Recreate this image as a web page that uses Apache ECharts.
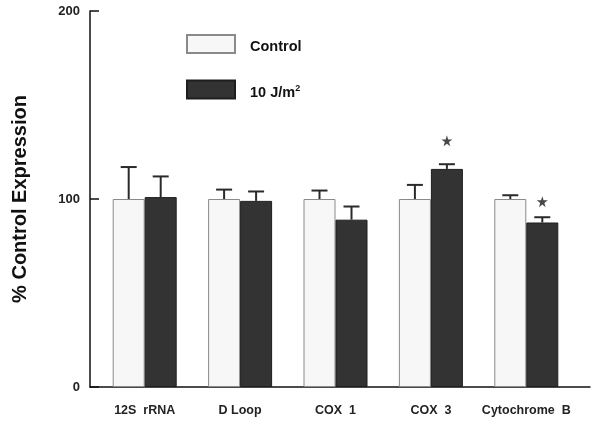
<!DOCTYPE html>
<html>
<head>
<meta charset="utf-8">
<script src="https://cdn.jsdelivr.net/npm/echarts@6/dist/echarts.min.js"></script>
<style>html,body{margin:0;padding:0;background:#fff}#c{width:600px;height:423px}</style>
</head>
<body>
<div id="c"></div>
<script>
const categories = ['12S  rRNA', 'D Loop', 'COX  1', 'COX  3', 'Cytochrome  B'];
const controlValues = [100, 100, 100, 100, 100];
const controlErrors = [117, 105, 104.5, 107.5, 102];
const treatedValues = [101, 99, 89, 116, 87.5];
const treatedErrors = [112, 104, 96, 118.5, 90.3];
const starValues = [null, null, null, 131, 98.6];
const yTicks = [0, 100, 200];

const chart = echarts.init(document.getElementById('c'));
const BW = 32;

function errorSeries(name, values, errs, dx) {
  return {
    type: 'custom', name: name + ' err', xAxisIndex: 0, yAxisIndex: 0, z: 5,
    data: values.map((v, i) => [i, v, errs[i]]),
    renderItem: function (params, api) {
      const base = api.coord([api.value(0), api.value(1)]);
      const top = api.coord([api.value(0), api.value(2)]);
      const x = base[0] + dx;
      return {
        type: 'group', children: [
          { type: 'line', shape: { x1: x, y1: base[1], x2: x, y2: top[1] }, style: { stroke: '#2a2a2a', lineWidth: 2 } },
          { type: 'line', shape: { x1: x - 8, y1: top[1], x2: x + 8, y2: top[1] }, style: { stroke: '#2a2a2a', lineWidth: 2 } }
        ]
      };
    }
  };
}

chart.setOption({
  animation: false,
  grid: [
    { left: 97, right: 26, top: 11, bottom: 36 },
    { left: 90, right: 10, top: 11, bottom: 36 }
  ],
  legend: {
    data: [{ name: 'Control', icon: 'rect' }, { name: '10 J/m2', icon: 'rect' }],
    orient: 'vertical', left: 186, top: 34, padding: 0, itemWidth: 48, itemHeight: 18, itemGap: 25,
    textStyle: { fontFamily: 'Liberation Sans', fontWeight: 'bold', fontSize: 14.5, color: '#111', padding: [6, 0, 0, 10],
      rich: { sup: { fontSize: 9, fontWeight: 'bold', verticalAlign: 'top', padding: [0, 0, 8, 0], fontFamily: 'Liberation Sans' } } },
    formatter: function (n) { return n === '10 J/m2' ? '10 J/m{sup|2}' : n; }
  },
  xAxis: [
    { type: 'category', gridIndex: 0, data: categories, axisLine: { show: false }, axisTick: { show: false },
      axisLabel: { interval: 0, margin: 17, fontFamily: 'Liberation Sans', fontSize: 12.5, color: '#222', fontWeight: 'bold' } },
    { type: 'value', gridIndex: 1, min: 0, max: 1, axisLine: { show: true, onZero: false, lineStyle: { color: '#111', width: 1.5 } },
      axisTick: { show: false }, axisLabel: { show: false }, splitLine: { show: false } }
  ],
  yAxis: [
    { type: 'value', gridIndex: 0, min: 0, max: 200, interval: 100, offset: 7,
      axisLine: { show: true, lineStyle: { color: '#111', width: 1.5 } },
      axisTick: { show: true, inside: true, length: 9, lineStyle: { color: '#111', width: 1.5 } },
      axisLabel: { margin: 10, fontFamily: 'Liberation Sans', fontSize: 13, color: '#222', fontWeight: 'bold',
        formatter: v => yTicks.includes(v) ? String(v) : '' },
      splitLine: { show: false },
      name: '% Control Expression', nameLocation: 'middle', nameGap: 60,
      nameTextStyle: { fontFamily: 'Liberation Sans', fontWeight: 'bold', fontSize: 20, color: '#111' } },
    { type: 'value', gridIndex: 1, show: false }
  ],
  series: [
    { type: 'bar', name: 'Control', data: controlValues, barWidth: BW, barGap: '0%',
      itemStyle: { color: '#f7f7f7', borderColor: '#8a8a8a', borderWidth: 1 } },
    { type: 'bar', name: '10 J/m2', data: treatedValues, barWidth: BW, barGap: '0%',
      itemStyle: { color: '#333333', borderColor: '#1e1e1e', borderWidth: 1 } },
    errorSeries('Control', controlValues, controlErrors, -BW / 2),
    errorSeries('10 J/m2', treatedValues, treatedErrors, BW / 2),
    { type: 'scatter', name: 'sig', data: starValues, symbolOffset: [BW / 2, 0], symbolSize: 11,
      symbol: 'path://M50,0 L61,35 L98,35 L68,57 L79,91 L50,70 L21,91 L32,57 L2,35 L39,35 Z',
      itemStyle: { color: '#1a1a1a' }, z: 6 }
  ]
});
</script>
</body>
</html>
